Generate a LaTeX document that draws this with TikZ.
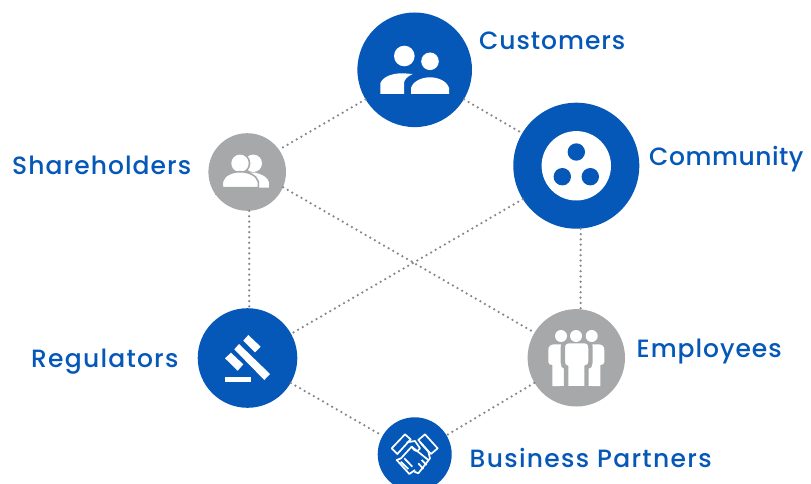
\documentclass[tikz,border=0pt]{standalone}
\usepackage{fontspec}
\setmainfont{Poppins Medium}
\definecolor{brandblue}{HTML}{0558B8}
\definecolor{brandgray}{HTML}{A7A8AA}
\definecolor{dotgray}{HTML}{858688}
\newcommand{\spaced}[2]{{\addfontfeature{LetterSpace=#1}#2}}
\tikzset{
  hub/.style={circle,inner sep=0pt,fill=brandblue},
  hubgray/.style={circle,inner sep=0pt,fill=brandgray},
  lab/.style={anchor=base west,inner sep=0pt,text=brandblue,font=\fontsize{25}{25}\selectfont},
  link/.style={draw=dotgray,line width=2.5pt,line cap=round,dash pattern=on 0pt off 5.3pt},
  ico/.style={fill=white,draw=none},
  hand/.style={draw=white,line width=1.7pt,line join=round,fill=none}
}
\begin{document}
\begin{tikzpicture}[x=1pt,y=-1pt]
\clip (0,0) rectangle (811,484);
\fill[white] (0,0) rectangle (811,484);
% hubs
\node[hub,minimum size=114.6pt] (cust) at (414.7,69.8) {};
\node[hubgray,minimum size=77.6pt] (share) at (247.2,172) {};
\node[hub,minimum size=126pt] (comm) at (576.3,165.7) {};
\node[hub,minimum size=99.6pt] (reg) at (247.5,358) {};
\node[hubgray,minimum size=97.4pt] (emp) at (576.3,357.8) {};
\node[hub,minimum size=74pt] (part) at (414.7,454.3) {};
% connectors
\draw[link] (cust.211.5) -- (share.35.3);
\draw[link] (cust.-31.6) -- (comm.149);
\draw[link] (share.-87.3) -- (reg.88);
\draw[link] (share.-23.7) -- (emp.149.3);
\draw[link] (comm.212.1) -- (reg.29.3);
\draw[link] (comm.-86.6) -- (emp.85.6);
\draw[link] (reg) -- (part);
\draw[link] (emp) -- (part);
% labels
\node[lab] (lcust) at (479,50) {\spaced{3.8}{Customers}};
\node[lab] (lshare) at (12,175) {\spaced{4.2}{Shareholders}};
\node[lab] (lcomm) at (649,165) {\spaced{2.1}{Community}};
\node[lab] (lreg) at (31,367) {\spaced{4.9}{Regulators}};
\node[lab] (lemp) at (636.5,357) {\spaced{3.8}{Employees}};
\node[lab] (lpart) at (469.5,467) {\spaced{5.3}{Business Partners}};
% customers icon
\fill[ico] (404.3,56) circle (10.3);
\fill[ico] (430,61.3) circle (8.8);
\fill[ico] (380.3,94) -- (380.3,83.3) .. controls (383,76) and (394,73) .. (403.3,73.3) -- (412.7,74) .. controls (407,76.5) and (404,80) .. (404,83.3) -- (404,94) -- cycle;
\fill[ico] (411,94) -- (411,88) .. controls (413,81) and (422,77.3) .. (430,77.3) .. controls (438,77.3) and (447,81) .. (449,88) -- (449,94) -- cycle;
% shareholders icon
\fill[ico] (253.3,163.3) circle (8.7);
\fill[brandgray] (240,163.3) circle (10.4);
\fill[ico] (240,163.3) circle (8.7);
\fill[ico] (268.8,187.7) -- (268.8,182) .. controls (268,177.5) and (262,174) .. (254,172.5) -- (250,172.5) -- (250,187.7) -- cycle;
\fill[ico,draw=brandgray,line width=1.6pt] (222.3,187.7) -- (222.3,181.7) .. controls (224,175) and (232,171.7) .. (240,171.7) .. controls (248,171.7) and (256.5,175) .. (258.3,181.7) -- (258.3,187.7) -- cycle;
\fill[brandgray] (215,188) rectangle (275,195);
% community icon
\fill[ico] (576.3,165.8) circle (34.7);
\fill[brandblue] (576.3,152) circle (8.7);
\fill[brandblue] (562.3,176.7) circle (8.7);
\fill[brandblue] (590.3,176.7) circle (8.7);
% regulators icon
\fill[ico] (239,344) -- (270,374) -- (264.3,380) -- (234.3,349.3) -- cycle;
\fill[ico] (248.3,335) -- (260.7,346.7) -- (255,352.3) -- (243.3,340.7) -- cycle;
\fill[ico] (231,352.7) -- (243.3,364.3) -- (237.7,370.7) -- (225,358.3) -- cycle;
\fill[ico] (225,377) rectangle (251,382);
% employees icon
\fill[ico] (548.3,350) .. controls (548.3,346) and (551,344.3) .. (555,344.3) -- (570,344.3) -- (570,386) -- (552.3,386) -- (552.3,365) .. controls (550,365) and (548.3,364) .. (548.3,362) -- cycle;
\fill[ico] (604.3,350) .. controls (604.3,346) and (602,344.3) .. (598,344.3) -- (582,344.3) -- (582,386) -- (600.3,386) -- (600.3,365) .. controls (602.5,365) and (604.3,364) .. (604.3,362) -- cycle;
\fill[ico,draw=brandgray,line width=4.4pt] (562.8,348) .. controls (562.8,343) and (565,341.1) .. (570,341.1) -- (583.5,341.1) .. controls (588.5,341.1) and (590.5,343) .. (590.5,348) -- (590.5,362) .. controls (590.5,365) and (589,367.2) .. (586.5,367.2) -- (586.5,390) -- (566.1,390) -- (566.1,367.2) .. controls (564,367.2) and (562.8,365) .. (562.8,362) -- cycle;
\fill[ico] (570,360) rectangle (580,386);
\fill[brandgray] (560,386) rectangle (592,394);
\fill[ico] (561,336) circle (6);
\fill[ico] (576,336) circle (6);
\fill[ico] (591.7,336) circle (6);
% partners icon
\begin{scope}[shift={(365,405)},x=0.3333pt,y=-0.3333pt]
\draw[hand] (80,130) -- (120,88) -- (137,103) -- (97,147) -- cycle;
\draw[hand] (160,105) -- (180,88) -- (218,130) -- (198,147) -- cycle;
\draw[hand] (125,112) -- (150,108) -- (165,130) .. controls (158,142) and (148,140) .. (140,125) -- (108,160) -- (95,165) -- (133,207) -- (150,195);
\draw[hand] (165,112) -- (190,140) -- (195,160) -- (160,205) -- (148,200);
\draw[hand] (140,125) -- (190,165);
\draw[hand] (107,170) -- (130,192) (118,160) -- (142,185) (170,165) -- (185,180) (160,175) -- (175,192);
\end{scope}
\end{tikzpicture}
\end{document}
